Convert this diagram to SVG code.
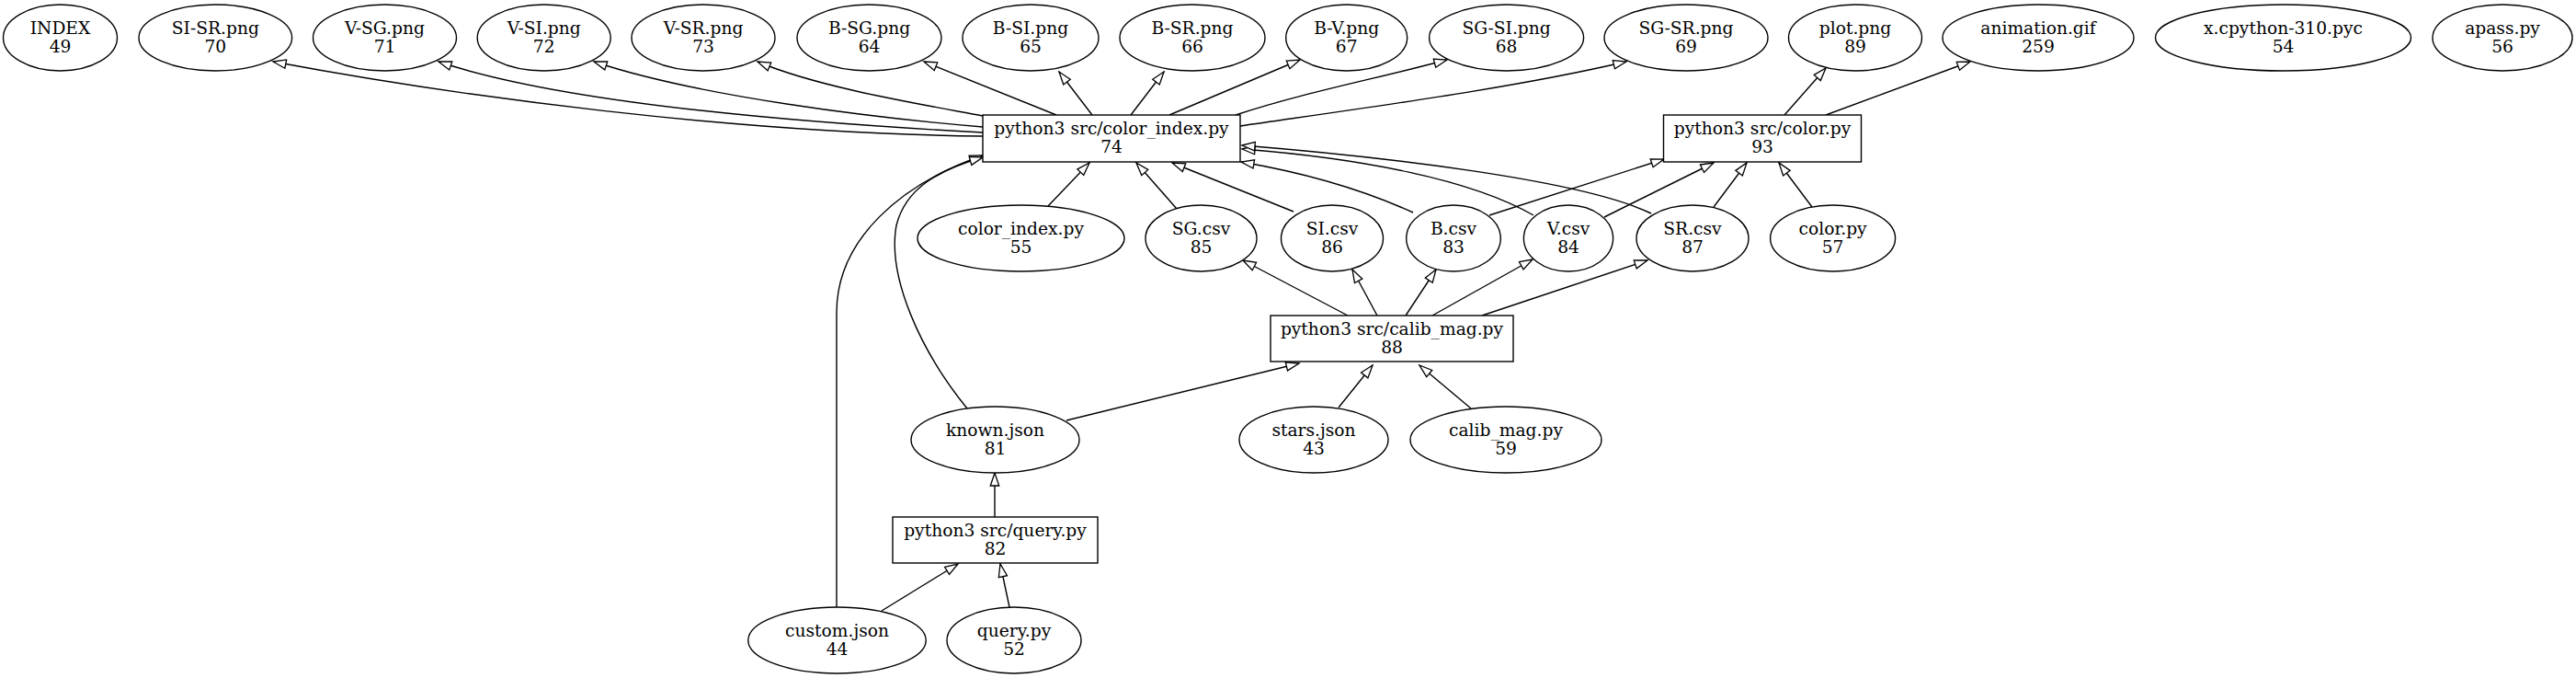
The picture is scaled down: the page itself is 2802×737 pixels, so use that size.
<svg xmlns="http://www.w3.org/2000/svg" width="2802" height="737" viewBox="0 0 2802 737">
<style>
.n ellipse,.n rect{fill:#fff;stroke:#000;stroke-width:1.4}
.n text{font-family:"DejaVu Serif",serif;font-size:18.67px;text-anchor:middle;fill:#000}
.e path{fill:none;stroke:#000;stroke-width:1.4;marker-end:url(#ah)}
</style>
<defs>
<marker id="ah" viewBox="0 0 14 10" refX="14" refY="5" markerWidth="14" markerHeight="10" markerUnits="userSpaceOnUse" orient="auto" overflow="visible">
<path d="M0,0.3 L14,5 L0,9.7 Z" fill="#fff" stroke="#000" stroke-width="1.3"/>
</marker>
</defs>
<rect width="2802" height="737" fill="#fff"/>
<g id="edges" class="e">
<path d="M1069,148 C800,145 500,105 297,67"/>
<path d="M1069,144 C900,135 620,115 477,67"/>
<path d="M1069,138 C950,128 760,105 646,67"/>
<path d="M1069,126 C1000,113 890,95 824,67"/>
<path d="M1149,125 L1005,67"/>
<path d="M1188,125 L1152,78"/>
<path d="M1230,125 L1266,78"/>
<path d="M1272,125 L1414,65"/>
<path d="M1344,125 C1420,100 1500,85 1574,65"/>
<path d="M1349,137 C1500,115 1650,95 1769,67"/>
<path d="M1941,125 L1986,74"/>
<path d="M1986,125 L2143,67"/>
<path d="M1140,224 L1185,177"/>
<path d="M1280,227 L1236,177"/>
<path d="M1407,230 L1275,177"/>
<path d="M1537,231 C1480,205 1420,188 1350,176"/>
<path d="M1668,234 C1600,195 1480,172 1351,162"/>
<path d="M1796,232 C1720,195 1500,170 1351,158"/>
<path d="M1620,234 L1810,173"/>
<path d="M1745,236 L1864,177"/>
<path d="M1864,225 L1900,177"/>
<path d="M1971,225 L1935,177"/>
<path d="M1466,343 L1352,283"/>
<path d="M1498,343 L1471,293"/>
<path d="M1529,343 L1562,293"/>
<path d="M1558,343 L1667,282"/>
<path d="M1612,343 L1792,283"/>
<path d="M1160,457 L1413,395"/>
<path d="M1456,443 L1493,397"/>
<path d="M1600,444 L1544,397"/>
<path d="M1082,562 L1082,514"/>
<path d="M959,664 L1042,613"/>
<path d="M1098,660 L1088,613"/>
<path d="M910,660 L910,340 C910,260 980,200 1069,169"/>
<path d="M1052,444 C1000,380 965,300 975,245 C985,205 1020,185 1069,171"/>
</g>
<g id="INDEX" class="n"><ellipse cx="65.5" cy="41" rx="62" ry="36"/><text x="65.5" y="36.5">INDEX</text><text x="65.5" y="56.5">49</text></g>
<g id="SI-SR.png" class="n"><ellipse cx="234.3" cy="41" rx="83.3" ry="36"/><text x="234.3" y="36.5">SI-SR.png</text><text x="234.3" y="56.5">70</text></g>
<g id="V-SG.png" class="n"><ellipse cx="418.5" cy="41" rx="78" ry="36"/><text x="418.5" y="36.5">V-SG.png</text><text x="418.5" y="56.5">71</text></g>
<g id="V-SI.png" class="n"><ellipse cx="591.7" cy="41" rx="72.5" ry="36"/><text x="591.7" y="36.5">V-SI.png</text><text x="591.7" y="56.5">72</text></g>
<g id="V-SR.png" class="n"><ellipse cx="765" cy="41" rx="78" ry="36"/><text x="765" y="36.5">V-SR.png</text><text x="765" y="56.5">73</text></g>
<g id="B-SG.png" class="n"><ellipse cx="945.5" cy="41" rx="78.5" ry="36"/><text x="945.5" y="36.5">B-SG.png</text><text x="945.5" y="56.5">64</text></g>
<g id="B-SI.png" class="n"><ellipse cx="1121" cy="41" rx="74" ry="36"/><text x="1121" y="36.5">B-SI.png</text><text x="1121" y="56.5">65</text></g>
<g id="B-SR.png" class="n"><ellipse cx="1297" cy="41" rx="79" ry="36"/><text x="1297" y="36.5">B-SR.png</text><text x="1297" y="56.5">66</text></g>
<g id="B-V.png" class="n"><ellipse cx="1464.7" cy="41" rx="66" ry="36"/><text x="1464.7" y="36.5">B-V.png</text><text x="1464.7" y="56.5">67</text></g>
<g id="SG-SI.png" class="n"><ellipse cx="1638.6" cy="41" rx="84" ry="36"/><text x="1638.6" y="36.5">SG-SI.png</text><text x="1638.6" y="56.5">68</text></g>
<g id="SG-SR.png" class="n"><ellipse cx="1834" cy="41" rx="89" ry="36"/><text x="1834" y="36.5">SG-SR.png</text><text x="1834" y="56.5">69</text></g>
<g id="plot.png" class="n"><ellipse cx="2018" cy="41" rx="72.5" ry="36"/><text x="2018" y="36.5">plot.png</text><text x="2018" y="56.5">89</text></g>
<g id="animation.gif" class="n"><ellipse cx="2217" cy="41" rx="104" ry="36"/><text x="2217" y="36.5">animation.gif</text><text x="2217" y="56.5">259</text></g>
<g id="x.cpython-310.pyc" class="n"><ellipse cx="2483.5" cy="41" rx="139" ry="36"/><text x="2483.5" y="36.5">x.cpython-310.pyc</text><text x="2483.5" y="56.5">54</text></g>
<g id="apass.py" class="n"><ellipse cx="2722" cy="41" rx="76" ry="36"/><text x="2722" y="36.5">apass.py</text><text x="2722" y="56.5">56</text></g>
<g id="cmd-color_index" class="n"><rect x="1069" y="125" width="280" height="51"/><text x="1209" y="146">python3 src/color_index.py</text><text x="1209" y="166">74</text></g>
<g id="cmd-color" class="n"><rect x="1809.5" y="125" width="215" height="51"/><text x="1917" y="146">python3 src/color.py</text><text x="1917" y="166">93</text></g>
<g id="color_index.py" class="n"><ellipse cx="1110.5" cy="259" rx="112.5" ry="36"/><text x="1110.5" y="254.5">color_index.py</text><text x="1110.5" y="274.5">55</text></g>
<g id="SG.csv" class="n"><ellipse cx="1306.5" cy="259" rx="60.5" ry="36"/><text x="1306.5" y="254.5">SG.csv</text><text x="1306.5" y="274.5">85</text></g>
<g id="SI.csv" class="n"><ellipse cx="1449" cy="259" rx="55.5" ry="36"/><text x="1449" y="254.5">SI.csv</text><text x="1449" y="274.5">86</text></g>
<g id="B.csv" class="n"><ellipse cx="1581" cy="259" rx="51.3" ry="36"/><text x="1581" y="254.5">B.csv</text><text x="1581" y="274.5">83</text></g>
<g id="V.csv" class="n"><ellipse cx="1706" cy="259" rx="48.6" ry="36"/><text x="1706" y="254.5">V.csv</text><text x="1706" y="274.5">84</text></g>
<g id="SR.csv" class="n"><ellipse cx="1841" cy="259" rx="61" ry="36"/><text x="1841" y="254.5">SR.csv</text><text x="1841" y="274.5">87</text></g>
<g id="color.py" class="n"><ellipse cx="1993.6" cy="259" rx="68" ry="36"/><text x="1993.6" y="254.5">color.py</text><text x="1993.6" y="274.5">57</text></g>
<g id="cmd-calib_mag" class="n"><rect x="1382" y="343" width="264" height="50"/><text x="1514" y="364">python3 src/calib_mag.py</text><text x="1514" y="384">88</text></g>
<g id="known.json" class="n"><ellipse cx="1082.5" cy="478" rx="91.5" ry="36"/><text x="1082.5" y="473.5">known.json</text><text x="1082.5" y="493.5">81</text></g>
<g id="stars.json" class="n"><ellipse cx="1429" cy="478" rx="81" ry="36"/><text x="1429" y="473.5">stars.json</text><text x="1429" y="493.5">43</text></g>
<g id="calib_mag.py" class="n"><ellipse cx="1638" cy="478" rx="104" ry="36"/><text x="1638" y="473.5">calib_mag.py</text><text x="1638" y="493.5">59</text></g>
<g id="cmd-query" class="n"><rect x="971" y="562" width="223" height="50"/><text x="1082.5" y="583">python3 src/query.py</text><text x="1082.5" y="603">82</text></g>
<g id="custom.json" class="n"><ellipse cx="910.5" cy="696" rx="96.7" ry="36"/><text x="910.5" y="691.5">custom.json</text><text x="910.5" y="711.5">44</text></g>
<g id="query.py" class="n"><ellipse cx="1103" cy="696" rx="73" ry="36"/><text x="1103" y="691.5">query.py</text><text x="1103" y="711.5">52</text></g>
</svg>
